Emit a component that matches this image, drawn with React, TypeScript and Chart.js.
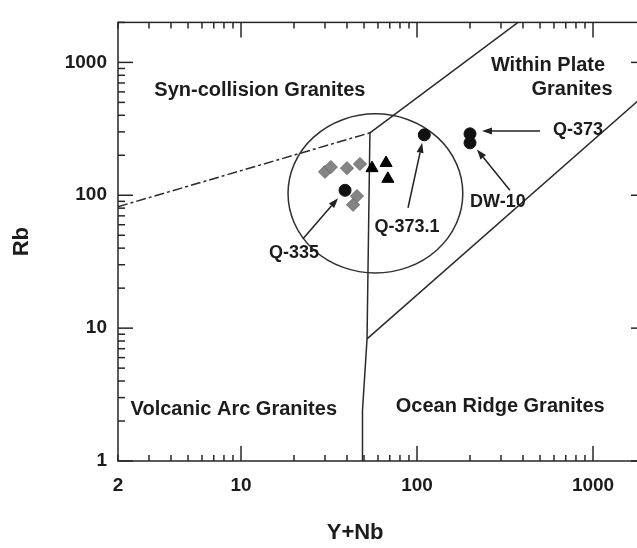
import React, { useEffect, useRef } from 'react';
import { Chart, registerables } from 'chart.js';

Chart.register(...registerables);

// ---- axis ticks ----
const X_TICKS = [2, 3, 4, 5, 6, 7, 8, 9, 10, 20, 30, 40, 50, 60, 70, 80, 90, 100, 200, 300, 400, 500, 600, 700, 800, 900, 1000, 2000];
const X_LABELS = [2, 10, 100, 1000];
const Y_TICKS = [1, 2, 3, 4, 5, 6, 7, 8, 9, 10, 20, 30, 40, 50, 60, 70, 80, 90, 100, 200, 300, 400, 500, 600, 700, 800, 900, 1000, 2000];
const Y_LABELS = [1, 10, 100, 1000];

// ---- samples ----
const DIAMOND_X = [30.0, 32.4, 40.0, 47.4, 45.6, 43.3];
const DIAMOND_Y = [150, 163, 160, 172, 98.6, 84.7];
const TRIANGLE_X = [55.5, 66.7, 68.3];
const TRIANGLE_Y = [160, 175, 133];
const CIRCLE_NAMES = ['Q-335', 'Q-373.1', 'Q-373', 'DW-10'];
const CIRCLE_X = [39, 110, 200, 200];
const CIRCLE_Y = [109, 285, 290, 248];

// ---- discrimination boundaries (Y+Nb, Rb) ----
const VAG_SYN_X = [2, 54];
const VAG_SYN_Y = [82, 295];
const SYN_WPG_X = [54, 375];
const SYN_WPG_Y = [295, 2000];
const VAG_ORG_X = [49, 49, 52, 54];
const VAG_ORG_Y = [1, 2.4, 8.3, 295];
const ORG_WPG_X = [52, 2000];
const ORG_WPG_Y = [8.3, 580];

// ---- annotations (anchored in data units) ----
const CIRCLE_BOUNDS_X = [18.5, 182];
const CIRCLE_BOUNDS_Y = [26, 410];
const NAME_POS_X = [20, 87.7, 822, 288];
const NAME_POS_Y = [36.5, 57.5, 309, 89];
const ARROW_FROM_X = [22.5, 88.9, 500, 337];
const ARROW_FROM_Y = [47, 80.5, 304, 109];
const ARROW_TO_X = [35.6, 107, 234, 219];
const ARROW_TO_Y = [95, 248, 304, 221];
const REGION_TEXT = ['Syn-collision Granites', 'Within Plate', 'Granites', 'Volcanic Arc Granites', 'Ocean Ridge Granites'];
const REGION_X = [12.8, 555, 760, 9.1, 297];
const REGION_Y = [616, 955, 627, 2.43, 2.56];
const X_TITLE = 'Y+Nb';
const X_TITLE_AT = 44.5;
const Y_TITLE = 'Rb';

const FONT = '"Liberation Sans", Arial, Helvetica, sans-serif';
const INK = '#1c1c1c';
const LINE = '#2a2a2a';

const pts = (xs: number[], ys: number[]) => xs.map((x, i) => ({ x, y: ys[i] }));
const isDecade = (v: number) => Math.abs(Math.log10(v) - Math.round(Math.log10(v))) < 1e-9;

const lineDs = (xs: number[], ys: number[], dash: number[] = []) => ({
  data: pts(xs, ys),
  showLine: true,
  pointRadius: 0,
  borderColor: LINE,
  borderWidth: 1.5,
  borderDash: dash,
  fill: false,
  tension: 0,
  order: 2,
});

const decor = {
  id: 'decor',
  beforeDatasetsDraw(chart: any) {
    const { ctx, scales } = chart;
    const x = scales.x, y = scales.y;
    const l = x.getPixelForValue(CIRCLE_BOUNDS_X[0]);
    const r = x.getPixelForValue(CIRCLE_BOUNDS_X[1]);
    const t = y.getPixelForValue(CIRCLE_BOUNDS_Y[1]);
    const b = y.getPixelForValue(CIRCLE_BOUNDS_Y[0]);
    ctx.save();
    ctx.strokeStyle = '#303030';
    ctx.lineWidth = 1.5;
    ctx.beginPath();
    ctx.ellipse((l + r) / 2, (t + b) / 2, (r - l) / 2, (b - t) / 2, 0, 0, Math.PI * 2);
    ctx.stroke();
    ctx.restore();
  },
  afterDatasetsDraw(chart: any) {
    const { ctx, chartArea: a, scales } = chart;
    const x = scales.x, y = scales.y;
    ctx.save();
    ctx.strokeStyle = '#262626';
    ctx.lineWidth = 1.5;
    ctx.strokeRect(a.left, a.top, a.right - a.left, a.bottom - a.top);
    const seg = (x1: number, y1: number, x2: number, y2: number) => {
      ctx.beginPath();
      ctx.moveTo(x1, y1);
      ctx.lineTo(x2, y2);
      ctx.stroke();
    };
    for (const tk of x.ticks) {
      const px = x.getPixelForValue(tk.value);
      const len = isDecade(tk.value) ? 15 : 6;
      seg(px, a.bottom, px, a.bottom - len);
      seg(px, a.top, px, a.top + len);
    }
    for (const tk of y.ticks) {
      const py = y.getPixelForValue(tk.value);
      const len = isDecade(tk.value) ? 15 : 7;
      seg(a.left, py, a.left + len, py);
      seg(a.right, py, a.right - len, py);
    }
    // arrows
    ctx.fillStyle = '#222';
    ctx.strokeStyle = '#222';
    ctx.lineWidth = 1.5;
    for (let i = 0; i < ARROW_FROM_X.length; i++) {
      const x1 = x.getPixelForValue(ARROW_FROM_X[i]);
      const y1 = y.getPixelForValue(ARROW_FROM_Y[i]);
      const x2 = x.getPixelForValue(ARROW_TO_X[i]);
      const y2 = y.getPixelForValue(ARROW_TO_Y[i]);
      const ang = Math.atan2(y2 - y1, x2 - x1);
      const hl = 10, hw = 3.5;
      const bx = x2 - Math.cos(ang) * hl, by = y2 - Math.sin(ang) * hl;
      seg(x1, y1, bx, by);
      ctx.beginPath();
      ctx.moveTo(x2, y2);
      ctx.lineTo(bx + Math.sin(ang) * hw, by - Math.cos(ang) * hw);
      ctx.lineTo(bx - Math.sin(ang) * hw, by + Math.cos(ang) * hw);
      ctx.closePath();
      ctx.fill();
    }
    // texts
    ctx.fillStyle = INK;
    ctx.textAlign = 'center';
    ctx.textBaseline = 'middle';
    ctx.font = `bold 18px ${FONT}`;
    for (let i = 0; i < CIRCLE_NAMES.length; i++) {
      ctx.fillText(CIRCLE_NAMES[i], x.getPixelForValue(NAME_POS_X[i]), y.getPixelForValue(NAME_POS_Y[i]));
    }
    ctx.font = `bold 20px ${FONT}`;
    for (let i = 0; i < REGION_TEXT.length; i++) {
      ctx.fillText(REGION_TEXT[i], x.getPixelForValue(REGION_X[i]), y.getPixelForValue(REGION_Y[i]));
    }
    ctx.font = `bold 22px ${FONT}`;
    ctx.fillText(X_TITLE, x.getPixelForValue(X_TITLE_AT), 533);
    ctx.restore();
  },
};

export default function App() {
  const ref = useRef<HTMLCanvasElement>(null);
  useEffect(() => {
    const tickFont = { family: FONT, size: 19, weight: 'bold' as const };
    const chart = new Chart(ref.current as HTMLCanvasElement, {
      type: 'scatter',
      data: {
        datasets: [
          {
            data: pts(DIAMOND_X, DIAMOND_Y),
            pointStyle: 'rectRot',
            pointRadius: 6.5,
            backgroundColor: '#848484',
            borderColor: '#6a6a6a',
            borderWidth: 1,
            order: 1,
          } as any,
          {
            data: pts(TRIANGLE_X, TRIANGLE_Y),
            pointStyle: 'triangle',
            pointRadius: 7,
            backgroundColor: '#000',
            borderColor: '#000',
            borderWidth: 1,
            order: 1,
          },
          {
            data: pts(CIRCLE_X, CIRCLE_Y),
            pointStyle: 'circle',
            pointRadius: 6,
            backgroundColor: '#111',
            borderColor: '#111',
            borderWidth: 1,
            order: 1,
          },
          lineDs(VAG_SYN_X, VAG_SYN_Y, [10, 3, 3, 3]),
          lineDs(SYN_WPG_X, SYN_WPG_Y),
          lineDs(VAG_ORG_X, VAG_ORG_Y),
          lineDs(ORG_WPG_X, ORG_WPG_Y),
        ] as any,
      },
      options: {
        animation: false,
        responsive: false,
        devicePixelRatio: 1,
        events: [],
        layout: { padding: { left: 0, right: 14, top: 9, bottom: 0 } },
        plugins: { legend: { display: false }, tooltip: { enabled: false } },
        scales: {
          x: {
            type: 'logarithmic',
            min: 2,
            max: 2000,
            position: 'bottom',
            afterBuildTicks: (s: any) => { s.ticks = X_TICKS.map((v) => ({ value: v })); },
            afterFit: (s: any) => { s.height = 87; },
            grid: { display: false, drawTicks: false, drawOnChartArea: false },
            border: { display: false },
            ticks: {
              autoSkip: false,
              maxRotation: 0,
              minRotation: 0,
              padding: 13,
              color: INK,
              font: tickFont,
              callback: (v: any) => (X_LABELS.includes(Number(v)) ? String(v) : ''),
            },
          },
          y: {
            type: 'logarithmic',
            min: 1,
            max: 2000,
            afterBuildTicks: (s: any) => { s.ticks = Y_TICKS.map((v) => ({ value: v })); },
            afterFit: (s: any) => { s.width = 118; },
            grid: { display: false, drawTicks: false, drawOnChartArea: false },
            border: { display: false },
            title: {
              display: true,
              text: Y_TITLE,
              color: INK,
              font: { family: FONT, size: 22, weight: 'bold' },
              padding: { top: 9, bottom: 0 },
            },
            ticks: {
              autoSkip: false,
              padding: 11,
              color: INK,
              font: tickFont,
              callback: (v: any) => (Y_LABELS.includes(Number(v)) ? String(v) : ''),
            },
          },
        } as any,
      },
      plugins: [decor],
    });
    return () => chart.destroy();
  }, []);
  return (
    <div style={{ position: 'fixed', left: 0, top: 0, width: 637, height: 548, overflow: 'hidden', background: '#fff' }}>
      <canvas ref={ref} width={660} height={548} style={{ display: 'block', width: 660, height: 548 }} />
    </div>
  );
}
